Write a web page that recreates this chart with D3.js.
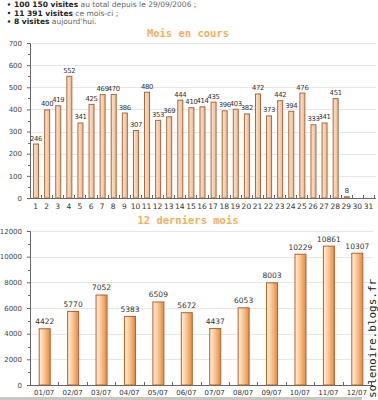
<!DOCTYPE html>
<html><head><meta charset="utf-8">
<script src="https://cdn.jsdelivr.net/npm/d3@7"></script>
<style>
body{margin:0;background:#fff;}
svg{display:block;}
</style></head>
<body>
<svg id="c" width="378" height="400"></svg>
<script>
const days = d3.range(1,32).map(String);
const dayValues = [246,400,419,552,341,425,469,470,386,307,480,353,369,444,410,414,435,396,403,382,472,373,442,394,476,333,341,451,8,null,null];
const months = ["01/07","02/07","03/07","04/07","05/07","06/07","07/07","08/07","09/07","10/07","11/07","12/07"];
const monthValues = [4422,5770,7052,5383,6509,5672,4437,6053,8003,10229,10861,10307];
const dayTicks = [0,100,200,300,400,500,600,700];
const monthTicks = [0,2000,4000,6000,8000,10000,12000];
const headerLines = [
  ["100 150 visites"," au total depuis le 29/09/2006 ;"],
  ["11 391 visites"," ce mois-ci ;"],
  ["8 visites"," aujourd'hui."]
];
const titles = ["Mois en cours","12 derniers mois"];

const svg = d3.select("#c");
const defs = svg.append("defs");
const g1 = defs.append("linearGradient").attr("id","gTop").attr("x1","0").attr("x2","1").attr("y1","0").attr("y2","0");
g1.append("stop").attr("offset","0").attr("stop-color","#fbe6d2");
g1.append("stop").attr("offset","1").attr("stop-color","#eeb98f");
const g2 = defs.append("linearGradient").attr("id","gBot").attr("x1","0").attr("x2","1").attr("y1","0").attr("y2","0");
g2.append("stop").attr("offset","0").attr("stop-color","#fff0e0");
g2.append("stop").attr("offset","0.45").attr("stop-color","#f8c898");
g2.append("stop").attr("offset","1").attr("stop-color","#e8883c");

// header
const hdr = svg.append("g").attr("font-family","Verdana, 'DejaVu Sans', sans-serif").attr("font-size","7.5px").attr("fill","#444");
headerLines.forEach((l,i)=>{
  const y = 7 + i*8.5;
  hdr.append("circle").attr("cx",9).attr("cy",y-2.5).attr("r",1.3).attr("fill","#333");
  const t = hdr.append("text").attr("x",14).attr("y",y);
  t.append("tspan").attr("font-weight","bold").attr("fill","#222").text(l[0]);
  t.append("tspan").attr("fill","#666").text(l[1]);
});

function chart(cfg){
  const g = svg.append("g");
  const x = d3.scaleBand().domain(cfg.cats).range([cfg.x0,cfg.x1]).padding(0);
  const y = d3.scaleLinear().domain([0,cfg.max]).range([cfg.yb,cfg.yt]);
  // title
  g.append("text").attr("x",cfg.tx).attr("y",cfg.ty).attr("text-anchor","middle")
    .attr("font-family","'DejaVu Sans Mono', monospace").attr("font-weight","bold")
    .attr("font-size","10.5px").attr("fill","#f2b060").text(cfg.title);
  // grid
  g.append("g").selectAll("line").data(cfg.ticks.filter(d=>d>0)).join("line")
    .attr("x1",cfg.x0).attr("x2",cfg.x1+2).attr("y1",d=>Math.round(y(d))+0.5).attr("y2",d=>Math.round(y(d))+0.5)
    .attr("stroke","#e6e6e6");
  // y axis
  const ya = g.append("g").attr("transform",`translate(${cfg.x0},0)`)
    .call(d3.axisLeft(y).tickValues(cfg.ticks).tickSize(3).tickPadding(5).tickFormat(d3.format("d")));
  ya.select(".domain").attr("stroke","#666");
  ya.selectAll(".tick line").attr("stroke","#666");
  ya.selectAll("text").attr("font-family","Verdana, 'DejaVu Sans', sans-serif").attr("font-size","7px").attr("fill","#444");
  // minor ticks
  g.append("g").selectAll("line").data(cfg.minor).join("line")
    .attr("x1",cfg.x0-2).attr("x2",cfg.x0).attr("y1",d=>Math.round(y(d))+0.5).attr("y2",d=>Math.round(y(d))+0.5).attr("stroke","#666");
  // x axis
  const xa = g.append("g").attr("transform",`translate(0,${cfg.yb})`)
    .call(d3.axisBottom(x).tickSize(0).tickPadding(cfg.xpad));
  xa.select(".domain").attr("stroke","#666").attr("d",`M${cfg.x0},0.5H${cfg.x1+2}`);
  xa.selectAll("text").attr("font-family","Verdana, 'DejaVu Sans', sans-serif").attr("font-size",cfg.xfs).attr("fill","#333");
  // category separator ticks
  g.append("g").selectAll("line").data(cfg.cats).join("line")
    .attr("x1",d=>Math.round(x(d)+x.bandwidth())+0.5).attr("x2",d=>Math.round(x(d)+x.bandwidth())+0.5)
    .attr("y1",cfg.yb).attr("y2",cfg.yb-3).attr("stroke","#666");
  // bars
  const data = cfg.cats.map((c,i)=>({c,v:cfg.vals[i]})).filter(d=>d.v!=null);
  g.append("g").selectAll("rect").data(data).join("rect")
    .attr("x",d=>x(d.c)+(x.bandwidth()-cfg.bw)/2+0.5)
    .attr("y",d=>y(d.v)+0.5)
    .attr("width",cfg.bw).attr("height",d=>Math.max(0,cfg.yb-y(d.v)-0.5))
    .attr("fill",cfg.fill).attr("stroke",cfg.stroke).attr("stroke-width",1);
  g.append("g").selectAll("text").data(data).join("text")
    .attr("x",d=>x(d.c)+x.bandwidth()/2+0.5).attr("y",d=>y(d.v)-cfg.lpad)
    .attr("text-anchor","middle").attr("font-family","Verdana, 'DejaVu Sans', sans-serif")
    .attr("font-size",cfg.lfs).attr("letter-spacing",cfg.ls).attr("fill","#333").text(d=>d.v);
}

chart({cats:days, vals:dayValues, max:700, ticks:dayTicks, minor:d3.range(50,700,100),
  x0:30, x1:374, yt:43, yb:198, tx:188, ty:37, title:titles[0], bw:5,
  fill:"url(#gTop)", stroke:"#a8683c", xpad:6, xfs:"7.5px", lfs:"6.8px", ls:"-0.3px", lpad:3});
chart({cats:months, vals:monthValues, max:12000, ticks:monthTicks, minor:d3.range(1000,12000,2000),
  x0:30, x1:371, yt:231, yb:385, tx:188, ty:224, title:titles[1], bw:11,
  fill:"url(#gBot)", stroke:"#b0622a", xpad:5, xfs:"7px", lfs:"7.5px", ls:"0px", lpad:4});

// bottom band
svg.append("rect").attr("x",0).attr("y",397).attr("width",362).attr("height",3).attr("fill","#c8c8c0");
// watermark
svg.append("text").attr("transform","translate(376,398) rotate(-90)")
  .attr("font-family","'DejaVu Sans Mono', monospace").attr("font-size","11px").attr("fill","#222")
  .text("solenoire.blogs.fr");
</script>
</body></html>
